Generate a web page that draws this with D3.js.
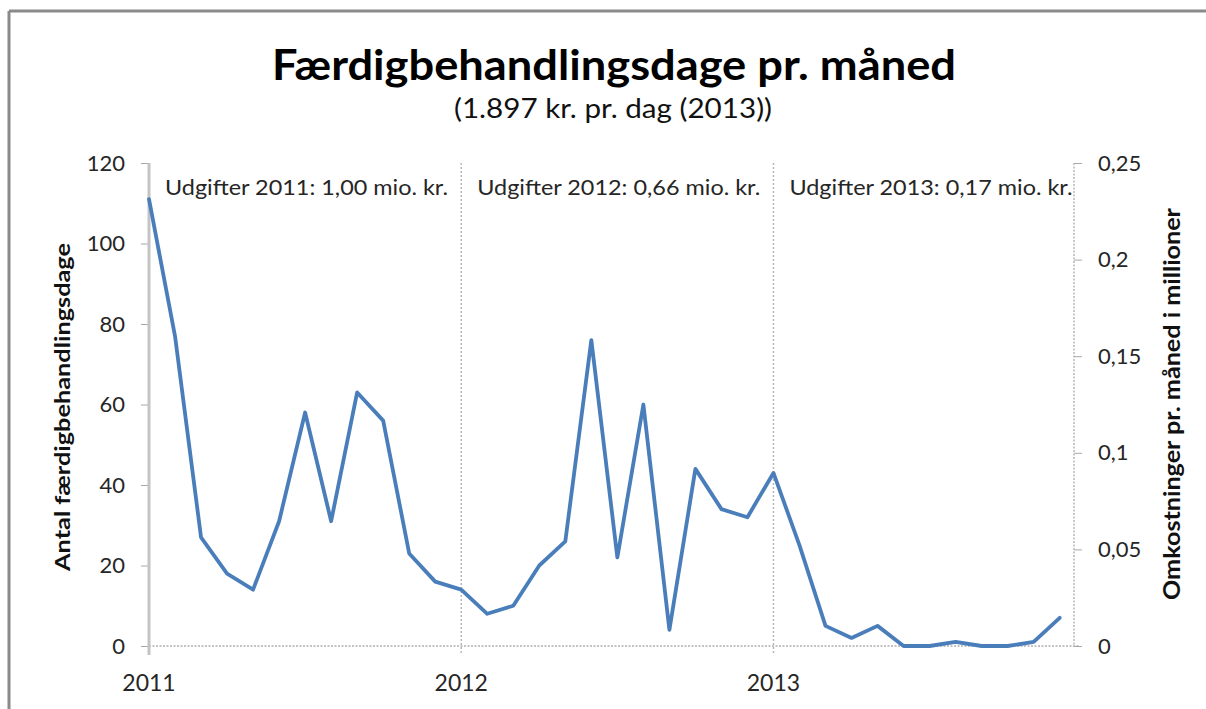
<!DOCTYPE html>
<html>
<head>
<meta charset="utf-8">
<script src="https://cdn.jsdelivr.net/npm/d3@7"></script>
<style>
  html, body { margin: 0; padding: 0; background: #fff; }
  svg { display: block; }
  text { font-family: Lato, "Open Sans", sans-serif; fill: #262626; }
</style>
</head>
<body>
<svg id="chart" width="1206" height="709"></svg>
<script>
// ---- data ----
const months = ["2011-01","2011-02","2011-03","2011-04","2011-05","2011-06","2011-07","2011-08","2011-09","2011-10","2011-11","2011-12",
                "2012-01","2012-02","2012-03","2012-04","2012-05","2012-06","2012-07","2012-08","2012-09","2012-10","2012-11","2012-12",
                "2013-01","2013-02","2013-03","2013-04","2013-05","2013-06","2013-07","2013-08","2013-09","2013-10","2013-11","2013-12"];
const days = [111, 77, 27, 18, 14, 31, 58, 31, 63, 56, 23, 16,
              14, 8, 10, 20, 26, 76, 22, 60, 4, 44, 34, 32,
              43, 25, 5, 2, 5, 0, 0, 1, 0, 0, 1, 7];
const yearLabels = ["2011", "2012", "2013"];
const yearStartIndex = [0, 12, 24];
const leftTicks = [0, 20, 40, 60, 80, 100, 120];
const rightTicks = [0, 0.05, 0.1, 0.15, 0.2, 0.25];
const expenseNotes = ["Udgifter 2011: 1,00 mio. kr.", "Udgifter 2012: 0,66 mio. kr.", "Udgifter 2013: 0,17 mio. kr."];
const title = "Færdigbehandlingsdage pr. måned";
const subtitle = "(1.897 kr. pr. dag (2013))";
const leftTitle = "Antal færdigbehandlingsdage";
const rightTitle = "Omkostninger pr. måned i millioner";

// ---- layout ----
const svg = d3.select("#chart");
const L = 149, R = 1074, T = 163, B = 646;

const x = d3.scaleLinear().domain([0, 35.55]).range([L, R]);
const y = d3.scaleLinear().domain([0, 120]).range([B, T]);
const y2 = d3.scaleLinear().domain([0, 0.25]).range([B, T]);

// outer frame (top & left visible)
svg.append("line").attr("x1", 9).attr("x2", 1206).attr("y1", 11).attr("y2", 11)
  .attr("stroke", "#8a8a8a").attr("stroke-width", 3);
svg.append("line").attr("x1", 9).attr("x2", 9).attr("y1", 11).attr("y2", 709)
  .attr("stroke", "#8a8a8a").attr("stroke-width", 3);

// title
svg.append("text").attr("x", 614).attr("y", 80).attr("text-anchor", "middle")
  .attr("font-size", 42).attr("font-weight", "bold").style("fill", "#000")
  .attr("textLength", 684).attr("lengthAdjust", "spacingAndGlyphs").text(title);
svg.append("text").attr("x", 613).attr("y", 118).attr("text-anchor", "middle")
  .attr("font-size", 27).style("fill", "#111")
  .attr("textLength", 318).attr("lengthAdjust", "spacingAndGlyphs").text(subtitle);

// year separators (dotted vertical)
svg.append("g").selectAll("line").data(yearStartIndex.slice(1)).join("line")
  .attr("x1", d => x(d)).attr("x2", d => x(d)).attr("y1", T).attr("y2", B + 9)
  .attr("stroke", "#b8b8b8").attr("stroke-width", 1.5).attr("stroke-dasharray", "2,2");

// bottom axis (dotted)
svg.append("line").attr("x1", L).attr("x2", R + 6).attr("y1", B).attr("y2", B)
  .attr("stroke", "#b0b0b0").attr("stroke-width", 1.5).attr("stroke-dasharray", "2,1.5");

// left axis
const gl = svg.append("g").attr("transform", `translate(${L},0)`)
  .call(d3.axisLeft(y).tickValues(leftTicks).tickSize(8).tickPadding(16).tickFormat(d3.format("d")));
gl.select(".domain").remove();
gl.selectAll(".tick line").attr("stroke", "#a8a8a8");
gl.selectAll(".tick text").attr("font-size", 22).attr("font-family", "Lato, sans-serif").style("fill", "#262626");
svg.append("line").attr("x1", L).attr("x2", L).attr("y1", T).attr("y2", B + 9)
  .attr("stroke", "#c4c4c4").attr("stroke-width", 3);

// right axis
const fmtComma = d => d === 0 ? "0" : String(+d.toFixed(2)).replace(".", ",");
const gr = svg.append("g").attr("transform", `translate(${R},0)`)
  .call(d3.axisRight(y2).tickValues(rightTicks).tickSize(8).tickPadding(16).tickFormat(fmtComma));
gr.select(".domain").remove();
gr.selectAll(".tick line").attr("stroke", "#a8a8a8");
gr.selectAll(".tick text").attr("font-size", 22).attr("font-family", "Lato, sans-serif").style("fill", "#262626");
svg.append("line").attr("x1", R).attr("x2", R).attr("y1", T).attr("y2", B)
  .attr("stroke", "#b8b8b8").attr("stroke-width", 1.5).attr("stroke-dasharray", "2,1.5");

// year labels
svg.append("g").selectAll("text").data(yearLabels).join("text")
  .attr("x", (d, i) => x(yearStartIndex[i])).attr("y", 691)
  .attr("text-anchor", "middle").attr("font-size", 23).text(d => d);

// expense annotations
svg.append("g").selectAll("text").data(expenseNotes).join("text")
  .attr("x", (d, i) => x(yearStartIndex[i]) + 165 - L).attr("y", 195)
  .attr("font-size", 22).attr("textLength", 283).attr("lengthAdjust", "spacingAndGlyphs")
  .text(d => d);

// axis titles
svg.append("text").attr("transform", "translate(70,407) rotate(-90)")
  .attr("text-anchor", "middle").attr("font-size", 21).attr("font-weight", "bold")
  .style("fill", "#111").attr("textLength", 328).attr("lengthAdjust", "spacingAndGlyphs").text(leftTitle);
svg.append("text").attr("transform", "translate(1180,404) rotate(-90)")
  .attr("text-anchor", "middle").attr("font-size", 22).attr("font-weight", "bold")
  .style("fill", "#111").attr("textLength", 392).attr("lengthAdjust", "spacingAndGlyphs").text(rightTitle);

// line
const line = d3.line().x((d, i) => x(i)).y(d => y(d));
svg.append("path").datum(days).attr("d", line)
  .attr("fill", "none").attr("stroke", "#4a7ebb").attr("stroke-width", 3.8)
  .attr("stroke-linejoin", "round").attr("stroke-linecap", "round");
</script>
</body>
</html>
